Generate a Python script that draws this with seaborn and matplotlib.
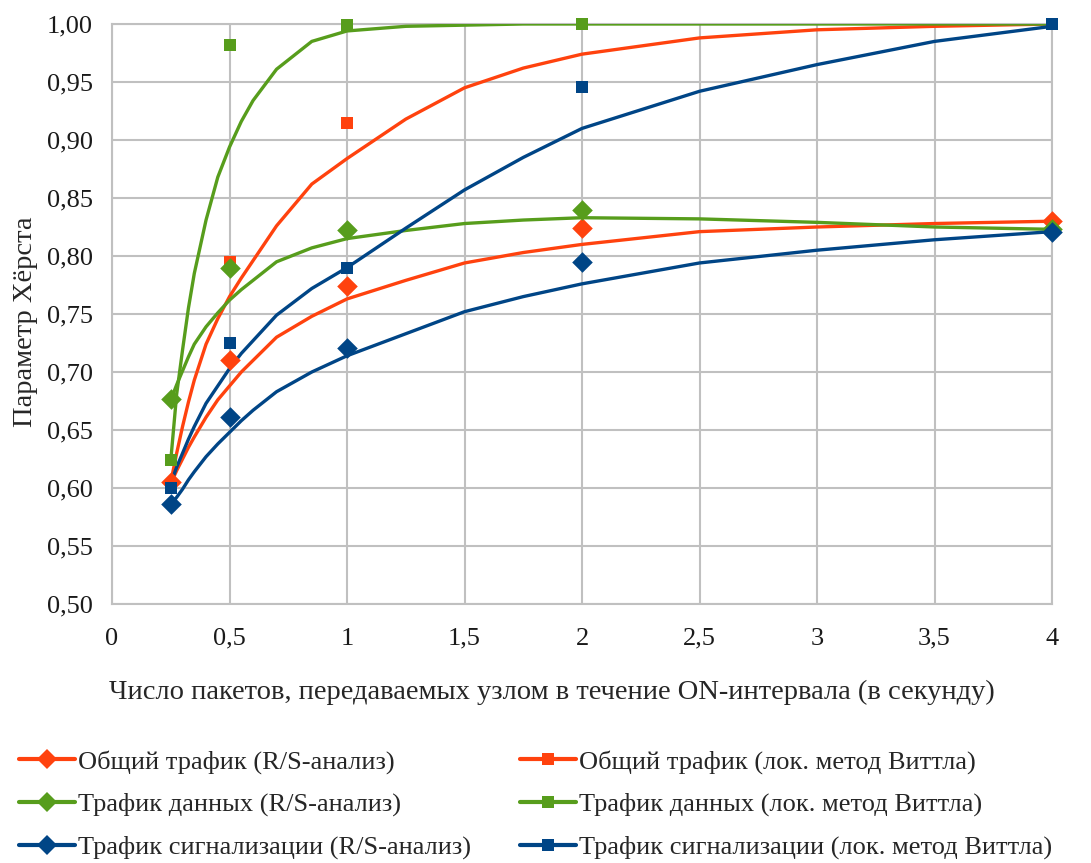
import numpy as np
import pandas as pd
import seaborn as sns
import matplotlib
matplotlib.use("Agg")
import matplotlib.pyplot as plt
from matplotlib.lines import Line2D
from matplotlib.ticker import FuncFormatter, MultipleLocator

# измеренные точки (x = число пакетов за ON-интервал)
point_x = [0.25, 0.5, 1, 2, 4]
total_rs = [0.605, 0.710, 0.774, 0.824, 0.830]
total_whittle = [0.603, 0.795, 0.915, 1.000, 1.000]
data_rs = [0.677, 0.790, 0.822, 0.840, 0.823]
data_whittle = [0.624, 0.982, 0.999, 1.000, 1.000]
signal_rs = [0.586, 0.661, 0.721, 0.795, 0.821]
signal_whittle = [0.600, 0.725, 0.790, 0.946, 1.000]

# сглаженные линии
curve_x = [0.25, 0.275, 0.3, 0.325, 0.35, 0.4, 0.45, 0.5, 0.55, 0.6, 0.7, 0.85,
           1.0, 1.25, 1.5, 1.75, 2.0, 2.5, 3.0, 3.5, 4.0]
total_rs_curve = [0.604, 0.615, 0.625, 0.635, 0.644, 0.661, 0.676, 0.688, 0.700, 0.710, 0.730, 0.748,
                  0.763, 0.779, 0.794, 0.803, 0.810, 0.821, 0.825, 0.828, 0.830]
total_whittle_curve = [0.605, 0.630, 0.653, 0.674, 0.693, 0.724, 0.746, 0.765, 0.781, 0.796, 0.826, 0.862,
                       0.884, 0.918, 0.945, 0.962, 0.974, 0.988, 0.995, 0.998, 1.000]
data_rs_curve = [0.676, 0.689, 0.701, 0.713, 0.724, 0.739, 0.751, 0.762, 0.771, 0.779, 0.795, 0.807,
                 0.815, 0.822, 0.828, 0.831, 0.833, 0.832, 0.829, 0.825, 0.823]
data_whittle_curve = [0.624, 0.681, 0.719, 0.755, 0.785, 0.831, 0.868, 0.894, 0.916, 0.934, 0.961, 0.985,
                      0.994, 0.998, 0.999, 1.000, 1.000, 1.000, 1.000, 1.000, 1.000]
signal_rs_curve = [0.586, 0.592, 0.599, 0.607, 0.614, 0.627, 0.638, 0.648, 0.658, 0.667, 0.683, 0.700,
                   0.714, 0.733, 0.752, 0.765, 0.776, 0.794, 0.805, 0.814, 0.821]
signal_whittle_curve = [0.604, 0.618, 0.630, 0.642, 0.653, 0.673, 0.688, 0.703, 0.716, 0.727, 0.749, 0.772,
                        0.790, 0.824, 0.857, 0.885, 0.910, 0.942, 0.965, 0.985, 0.998]

labels = [
    "Общий трафик (R/S-анализ)",
    "Общий трафик (лок. метод Виттла)",
    "Трафик данных (R/S-анализ)",
    "Трафик данных (лок. метод Виттла)",
    "Трафик сигнализации (R/S-анализ)",
    "Трафик сигнализации (лок. метод Виттла)",
]

ORANGE = "#ff420e"
GREEN = "#579d1c"
BLUE = "#004586"
GRID = "#c0c0c0"

series = [
    (labels[0], total_rs, total_rs_curve, ORANGE, "D"),
    (labels[1], total_whittle, total_whittle_curve, ORANGE, "s"),
    (labels[2], data_rs, data_rs_curve, GREEN, "D"),
    (labels[3], data_whittle, data_whittle_curve, GREEN, "s"),
    (labels[4], signal_rs, signal_rs_curve, BLUE, "D"),
    (labels[5], signal_whittle, signal_whittle_curve, BLUE, "s"),
]

sns.set_style("white")
plt.rcParams["font.family"] = ["Liberation Serif", "DejaVu Serif"]

fig = plt.figure(figsize=(10.91, 8.63), dpi=100)
ax = fig.add_axes([0.1027, 0.3001, 0.8616, 0.6721])

for name, pts, curve, color, marker in series:
    sns.lineplot(x=curve_x, y=curve, color=color, linewidth=2.4, ax=ax,
                 legend=False, zorder=3)
for name, pts, curve, color, marker in series:
    size = 110 if marker == "D" else 75
    sns.scatterplot(x=point_x, y=pts, color=color, marker=marker, s=size,
                    linewidth=0, ax=ax, legend=False, zorder=4, clip_on=False)

ax.set_xlim(0, 4)
ax.set_ylim(0.5, 1.0)
ax.xaxis.set_major_locator(MultipleLocator(0.5))
ax.yaxis.set_major_locator(MultipleLocator(0.05))
ax.xaxis.set_major_formatter(FuncFormatter(lambda v, p: f"{v:g}".replace(".", ",")))
ax.yaxis.set_major_formatter(FuncFormatter(lambda v, p: f"{v:.2f}".replace(".", ",")))
ax.grid(True, color=GRID, linewidth=1.5)
ax.set_axisbelow(True)
for sp in ax.spines.values():
    sp.set_color(GRID)
    sp.set_linewidth(1.5)
ax.tick_params(length=0, labelsize=19, colors="#1a1a1a")
ax.tick_params(axis="x", pad=17)
ax.tick_params(axis="y", pad=14)

ax.set_xlabel("Число пакетов, передаваемых узлом в течение ON-интервала (в секунду)",
              fontsize=20.5, labelpad=22)
ax.xaxis.label.set_x(0.468)
ax.set_ylabel("Параметр Хёрста", fontsize=20.5, labelpad=6)
ax.yaxis.label.set_y(0.486)

# легенда: матплотлиб заполняет по столбцам
handles = []
order = [0, 2, 4, 1, 3, 5]
for i in order:
    name, pts, curve, color, marker = series[i]
    handles.append(Line2D([0], [0], color=color, linewidth=3, marker=marker,
                          markersize=10 if marker == "D" else 9, markeredgewidth=0))
fig.legend(handles, [labels[i] for i in order], ncol=2, loc="lower left",
           bbox_to_anchor=(0.008, -0.008), frameon=False, fontsize=19,
           handlelength=2.1, handletextpad=0.12, columnspacing=1.87,
           labelspacing=0.72, borderaxespad=0.0)

fig.savefig("out.png", dpi=100)
